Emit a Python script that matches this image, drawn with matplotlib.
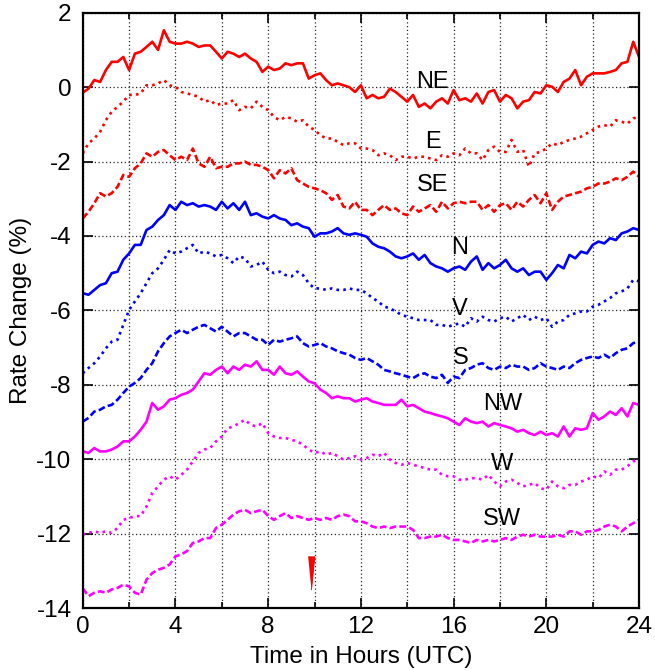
import numpy as np
import matplotlib
matplotlib.use("Agg")
import matplotlib.pyplot as plt

plt.rcParams['font.family'] = ['Liberation Sans', 'DejaVu Sans']
plt.rcParams['axes.unicode_minus'] = False

# sample times (UTC hours), every 15 minutes
hours = np.linspace(0, 24, 97)

ne = [-0.15, -0.04, 0.19, 0.14, 0.46, 0.68, 0.68, 0.81,
      0.46, 0.90, 0.95, 1.08, 1.22, 1.00, 1.53, 1.22,
      1.17, 1.17, 1.22, 1.17, 1.08, 1.12, 1.12, 0.95,
      0.77, 0.95, 0.90, 0.81, 0.90, 0.77, 0.68, 0.41,
      0.55, 0.46, 0.50, 0.64, 0.59, 0.64, 0.64, 0.23,
      0.32, 0.37, 0.19, 0.05, 0.10, 0.05, 0.00, -0.13,
      0.05, -0.30, -0.21, -0.30, -0.26, -0.04, -0.13, -0.26,
      -0.39, -0.21, -0.53, -0.44, -0.57, -0.39, -0.30, -0.44,
      -0.08, -0.35, -0.30, -0.39, -0.17, -0.44, -0.13, -0.08,
      -0.39, -0.21, -0.30, -0.57, -0.39, -0.35, -0.13, -0.17,
      0.05, 0.01, -0.13, 0.14, 0.23, 0.46, 0.05, 0.28,
      0.37, 0.37, 0.37, 0.41, 0.46, 0.64, 0.68, 1.22,
      0.81]

e = [-1.78, -1.51, -1.38, -1.20, -0.89, -0.66, -0.53, -0.39,
     -0.21, -0.21, -0.17, 0.05, 0.05, 0.10, 0.19, 0.05,
     0.01, -0.13, -0.17, -0.21, -0.26, -0.39, -0.35, -0.48,
     -0.44, -0.44, -0.35, -0.62, -0.53, -0.57, -0.39, -0.53,
     -0.62, -0.80, -0.89, -0.80, -0.84, -0.93, -0.89, -1.06,
     -1.15, -1.29, -1.38, -1.38, -1.47, -1.56, -1.51, -1.51,
     -1.65, -1.65, -1.69, -1.83, -1.78, -1.83, -1.96, -1.87,
     -1.87, -1.92, -1.87, -1.87, -1.92, -1.96, -1.83, -1.87,
     -1.78, -1.83, -1.65, -1.78, -1.78, -1.96, -1.69, -1.60,
     -1.74, -1.74, -1.42, -1.74, -1.69, -2.14, -1.78, -1.74,
     -1.65, -1.51, -1.56, -1.47, -1.42, -1.38, -1.33, -1.24,
     -1.15, -1.06, -1.02, -1.06, -0.89, -0.93, -0.98, -0.84,
     -0.80]

se = [-3.53, -3.35, -3.12, -2.85, -2.94, -2.85, -2.68, -2.36,
      -2.41, -2.18, -2.05, -1.78, -1.87, -1.74, -1.69, -1.83,
      -1.96, -1.87, -1.96, -1.65, -2.05, -2.14, -1.87, -2.18,
      -2.14, -2.14, -2.05, -2.05, -2.00, -2.09, -2.09, -2.14,
      -2.23, -2.45, -2.23, -2.32, -2.18, -2.50, -2.59, -2.68,
      -2.72, -2.77, -2.85, -3.03, -2.90, -3.21, -3.26, -3.08,
      -3.30, -3.30, -3.44, -3.30, -3.17, -3.30, -3.26, -3.39,
      -3.44, -3.21, -3.35, -3.26, -3.17, -3.35, -3.08, -3.26,
      -3.12, -3.08, -3.12, -3.08, -3.08, -3.30, -3.17, -3.35,
      -3.17, -3.12, -3.30, -3.08, -3.21, -3.03, -2.90, -3.12,
      -2.85, -3.30, -3.08, -2.94, -2.90, -2.85, -2.81, -2.72,
      -2.68, -2.59, -2.59, -2.54, -2.45, -2.50, -2.41, -2.27,
      -2.41]

n = [-5.54, -5.58, -5.45, -5.32, -5.27, -5.00, -4.96, -4.64,
     -4.47, -4.24, -4.24, -3.84, -3.75, -3.57, -3.44, -3.17,
     -3.30, -3.08, -3.17, -3.12, -3.21, -3.17, -3.21, -3.30,
     -3.08, -3.26, -3.12, -3.30, -3.08, -3.44, -3.39, -3.48,
     -3.53, -3.44, -3.53, -3.57, -3.71, -3.66, -3.75, -3.79,
     -4.02, -3.93, -3.93, -3.88, -3.79, -3.93, -3.97, -3.93,
     -3.97, -4.02, -4.20, -4.29, -4.33, -4.42, -4.55, -4.60,
     -4.55, -4.47, -4.64, -4.51, -4.73, -4.82, -4.87, -4.96,
     -4.87, -4.82, -4.91, -4.69, -4.55, -4.91, -4.73, -4.87,
     -4.78, -4.64, -4.87, -4.96, -4.87, -5.05, -4.96, -4.96,
     -5.18, -5.00, -4.78, -4.87, -4.51, -4.60, -4.42, -4.47,
     -4.24, -4.15, -4.20, -4.06, -4.11, -3.93, -3.88, -3.79,
     -3.84]

v = [-7.69, -7.55, -7.42, -7.24, -7.02, -6.84, -6.79, -6.39,
     -5.99, -5.76, -5.54, -5.27, -5.00, -4.87, -4.64, -4.38,
     -4.47, -4.42, -4.33, -4.24, -4.47, -4.42, -4.47, -4.55,
     -4.51, -4.60, -4.73, -4.55, -4.60, -4.82, -4.78, -4.69,
     -4.91, -5.00, -4.96, -5.05, -5.09, -4.96, -5.05, -5.27,
     -5.41, -5.41, -5.45, -5.41, -5.45, -5.45, -5.41, -5.45,
     -5.45, -5.54, -5.67, -5.76, -5.90, -5.94, -6.03, -6.12,
     -6.17, -6.21, -6.26, -6.26, -6.26, -6.39, -6.39, -6.44,
     -6.39, -6.35, -6.44, -6.21, -6.30, -6.17, -6.26, -6.30,
     -6.21, -6.17, -6.30, -6.21, -6.12, -6.26, -6.17, -6.26,
     -6.21, -6.44, -6.30, -6.26, -6.12, -6.08, -6.03, -6.03,
     -5.90, -5.85, -5.76, -5.67, -5.54, -5.49, -5.41, -5.18,
     -5.22]

s = [-8.99, -8.89, -8.72, -8.67, -8.58, -8.54, -8.40, -8.22,
     -8.05, -7.95, -7.82, -7.60, -7.42, -7.10, -6.88, -6.70,
     -6.61, -6.52, -6.61, -6.52, -6.44, -6.39, -6.48, -6.57,
     -6.44, -6.57, -6.70, -6.61, -6.61, -6.70, -6.79, -6.79,
     -6.93, -6.79, -6.84, -6.79, -6.75, -6.70, -6.88, -6.97,
     -6.93, -6.88, -6.97, -7.02, -7.10, -7.15, -7.19, -7.28,
     -7.33, -7.28, -7.37, -7.46, -7.60, -7.64, -7.69, -7.73,
     -7.78, -7.82, -7.73, -7.69, -7.78, -7.82, -7.73, -7.95,
     -7.78, -7.82, -7.60, -7.55, -7.46, -7.42, -7.55, -7.60,
     -7.51, -7.55, -7.46, -7.51, -7.51, -7.60, -7.55, -7.42,
     -7.51, -7.55, -7.60, -7.51, -7.55, -7.42, -7.33, -7.28,
     -7.24, -7.28, -7.19, -7.28, -7.15, -7.06, -7.02, -6.88,
     -6.84]

nw = [-9.79, -9.83, -9.70, -9.79, -9.79, -9.74, -9.66, -9.52,
      -9.52, -9.39, -9.21, -8.99, -8.49, -8.67, -8.58, -8.40,
      -8.36, -8.27, -8.22, -8.13, -7.91, -7.69, -7.73, -7.60,
      -7.51, -7.69, -7.51, -7.60, -7.46, -7.51, -7.37, -7.60,
      -7.60, -7.73, -7.51, -7.69, -7.73, -7.64, -7.78, -7.91,
      -7.96, -8.13, -8.22, -8.36, -8.31, -8.36, -8.36, -8.45,
      -8.40, -8.36, -8.45, -8.49, -8.54, -8.54, -8.54, -8.40,
      -8.58, -8.54, -8.63, -8.72, -8.76, -8.81, -8.85, -8.90,
      -8.99, -9.08, -8.90, -8.99, -9.03, -8.99, -9.12, -9.03,
      -9.08, -9.12, -9.17, -9.26, -9.21, -9.30, -9.35, -9.26,
      -9.35, -9.30, -9.39, -9.12, -9.39, -9.17, -9.21, -9.17,
      -8.76, -8.94, -8.85, -8.72, -8.81, -8.63, -8.85, -8.49,
      -8.54]

w = [-12.03, -11.98, -11.94, -11.98, -11.94, -11.98, -11.85, -11.63,
     -11.58, -11.53, -11.53, -11.27, -10.91, -10.73, -10.55, -10.46,
     -10.55, -10.42, -10.28, -10.06, -9.83, -9.74, -9.70, -9.52,
     -9.39, -9.17, -9.12, -9.03, -8.94, -9.08, -9.12, -9.03,
     -9.30, -9.39, -9.43, -9.43, -9.48, -9.52, -9.61, -9.74,
     -9.83, -9.79, -9.88, -9.83, -9.92, -10.01, -9.97, -9.92,
     -10.01, -9.97, -9.88, -9.92, -9.83, -10.01, -10.10, -10.15,
     -10.10, -10.15, -10.19, -10.24, -10.28, -10.28, -10.42, -10.46,
     -10.46, -10.55, -10.55, -10.51, -10.51, -10.55, -10.42, -10.60,
     -10.73, -10.60, -10.55, -10.64, -10.73, -10.69, -10.64, -10.78,
     -10.82, -10.60, -10.73, -10.78, -10.69, -10.69, -10.60, -10.55,
     -10.46, -10.51, -10.33, -10.42, -10.28, -10.28, -10.19, -10.06,
     -10.01]

sw = [-13.47, -13.68, -13.59, -13.55, -13.59, -13.50, -13.46, -13.37,
      -13.42, -13.59, -13.64, -13.24, -13.06, -12.97, -12.92, -12.83,
      -12.61, -12.56, -12.47, -12.25, -12.21, -12.12, -12.12, -11.85,
      -11.76, -11.63, -11.49, -11.40, -11.36, -11.45, -11.40, -11.36,
      -11.53, -11.63, -11.53, -11.45, -11.58, -11.53, -11.58, -11.63,
      -11.58, -11.63, -11.58, -11.63, -11.53, -11.49, -11.53, -11.67,
      -11.67, -11.72, -11.81, -11.85, -11.81, -11.85, -11.81, -11.81,
      -11.81, -11.90, -12.12, -12.12, -12.08, -12.08, -12.03, -12.12,
      -12.17, -12.17, -12.21, -12.25, -12.17, -12.21, -12.17, -12.21,
      -12.17, -12.12, -12.17, -12.08, -12.03, -12.08, -12.03, -12.08,
      -12.08, -12.08, -12.03, -12.08, -11.94, -11.94, -12.03, -11.94,
      -11.94, -11.90, -11.81, -11.76, -11.81, -11.94, -11.81, -11.72,
      -11.63]

names = ["NE", "E", "SE", "N", "V", "S", "NW", "W", "SW"]
series = [ne, e, se, n, v, s, nw, w, sw]
label_x = [15.1, 15.1, 15.1, 16.25, 16.25, 16.3, 18.1, 18.1, 18.1]
label_y = [0.13, -1.48, -2.63, -4.32, -5.96, -7.28, -8.51, -10.12, -11.6]

# red marker near the bottom
mark_x = [9.86]
mark_y = [-13.05]

colors = ["#ff0000"] * 3 + ["#0000ff"] * 3 + ["#ff00ff"] * 3
styles = ["-", (0, (1, 1.6)), (0, (2.6, 1.2))] * 3

fig = plt.figure(figsize=(6.55, 6.7), dpi=100)
ax = fig.add_axes([0.1263, 0.0925, 0.8493, 0.8885])

for ys, c, ls in zip(series, colors, styles):
    ax.plot(hours, ys, color=c, linestyle=ls, linewidth=1.9)

for name, lx, ly in zip(names, label_x, label_y):
    ax.text(lx, ly, name, fontsize=17, ha="center", va="center")

ax.plot(mark_x, mark_y, linestyle="none", color="#ff0000",
        marker=[(-1, 5), (1, 5), (0, -5)], markersize=24, markeredgewidth=0.6,
        markeredgecolor="#dd0000")

ax.set_xlim(0, 24)
ax.set_ylim(-14, 2)
ax.set_xticks(range(0, 25, 4))
ax.set_xticks(range(2, 24, 4), minor=True)
ax.set_yticks(range(-14, 3, 2))

ax.grid(which="both", axis="x", color="0.15", linestyle=(0, (1, 2)), linewidth=0.9)
ax.grid(which="major", axis="y", color="0.15", linestyle=(0, (1, 2)), linewidth=0.9)
ax.set_axisbelow(True)

ax.tick_params(which="both", direction="in", top=True, right=True, width=1.2)
ax.tick_params(which="major", length=7, labelsize=17.5)
ax.tick_params(which="minor", length=4)
ax.tick_params(axis="x", pad=6)
ax.tick_params(axis="y", pad=8)
for sp in ax.spines.values():
    sp.set_linewidth(1.6)

ax.set_xlabel("Time in Hours (UTC)", fontsize=17.5)
ax.set_ylabel("Rate Change (%)", fontsize=17.5)
ax.xaxis.set_label_coords(0.5, -0.064)
ax.yaxis.set_label_coords(-0.092, 0.5)

fig.savefig("out.png", dpi=100)
